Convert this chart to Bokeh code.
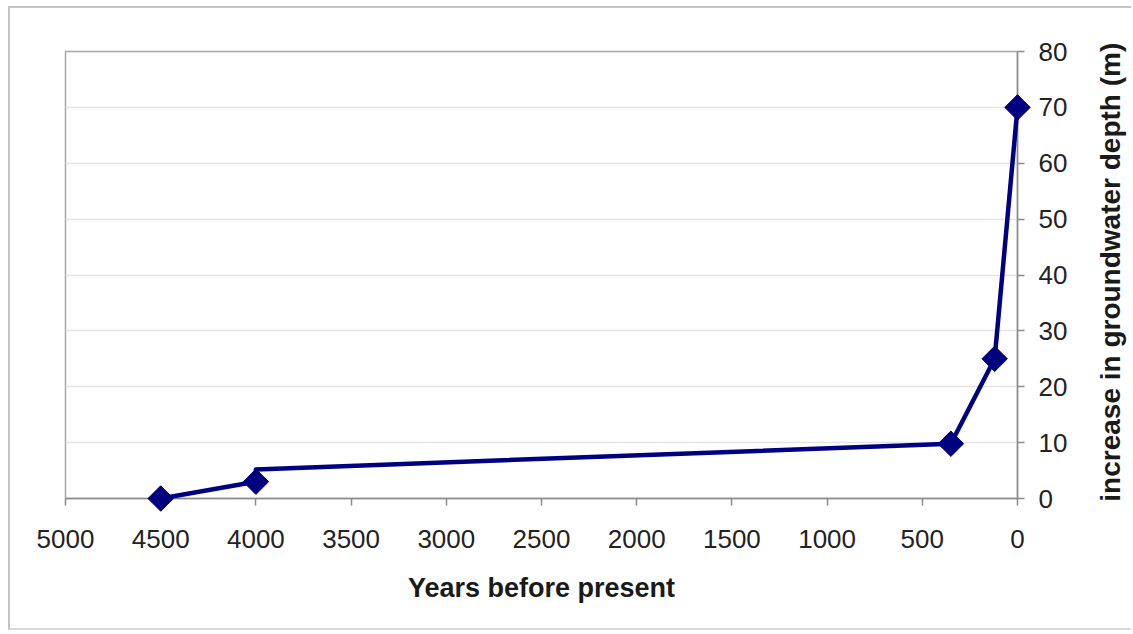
from bokeh.plotting import figure
from bokeh.models import Range1d, FixedTicker, ColumnDataSource
from bokeh.core.properties import value
from bokeh.embed import file_html
from bokeh.resources import INLINE
import math

# data
line_years = [4500, 4000, 4000, 350, 120, 0]
line_depth = [0, 3, 5.2, 9.8, 25, 70]
marker_years = [4500, 4000, 350, 120, 0]
marker_depth = [0, 3, 9.8, 25, 70]
x_ticks = list(range(0, 5001, 500))
y_ticks = list(range(0, 81, 10))
x_title = "Years before present"
y_title = "increase in groundwater depth (m)"

p = figure(width=1123, height=624, output_backend="svg", toolbar_location=None,
           x_range=Range1d(5000, 0), y_range=Range1d(0, 80),
           y_axis_location="right",
           min_border_left=55, min_border_top=43, min_border_right=116, min_border_bottom=134)
p.margin = (6, 0, 0, 8)
p.styles = {"border-left": "2px solid #c4c4c4", "border-top": "2px solid #c4c4c4",
            "border-bottom": "2px solid #d8d8d8", "border-right": "none"}
p.background_fill_color = "white"
p.border_fill_color = "white"
p.outline_line_color = "#a6a6a6"
p.outline_line_width = 1.5

p.xgrid.visible = False
p.ygrid.grid_line_color = "#e4e4e4"
p.ygrid.grid_line_width = 1.5
p.ygrid.ticker = FixedTicker(ticks=y_ticks)

for ax in (p.xaxis[0], p.yaxis[0]):
    ax.axis_line_color = "#8a8a8a"
    ax.axis_line_width = 1.5
    ax.major_tick_line_color = "#8a8a8a"
    ax.major_tick_line_width = 1.5
    ax.major_tick_in = 0
    ax.major_tick_out = 7
    ax.minor_tick_line_color = None
    ax.major_label_text_font = "Liberation Sans"
    ax.major_label_text_font_size = "26px"
    ax.major_label_text_color = "#222222"
    ax.axis_label_text_font = "Liberation Sans"
    ax.axis_label_text_font_size = "27px"
    ax.axis_label_text_font_style = "bold"
    ax.axis_label_text_color = "#1a1a1a"

p.xaxis.ticker = FixedTicker(ticks=x_ticks)
p.yaxis.ticker = FixedTicker(ticks=y_ticks)
p.xaxis.axis_label = x_title
p.xaxis.major_label_standoff = 24
p.yaxis.major_label_standoff = 14
p.xaxis.axis_label_standoff = 22

p.line(line_years, line_depth, line_color="#000080", line_width=4.5, line_join="round",
       level="overlay")
p.scatter(marker_years, marker_depth, marker="square", angle=math.pi / 4, size=18,
          fill_color="#000080", line_color="#000080", level="overlay")

# right-hand axis title, reading bottom to top as in the reference
title_src = ColumnDataSource(dict(x=[-490], y=[40.5], t=[y_title]))
p.text(x="x", y="y", text="t", source=title_src, angle=math.pi / 2,
       text_align="center", text_baseline="middle",
       text_font=value("Liberation Sans"), text_font_size="28px",
       text_font_style="bold", text_color="#1a1a1a", level="overlay")

open("out.html", "w").write(file_html(p, INLINE))
